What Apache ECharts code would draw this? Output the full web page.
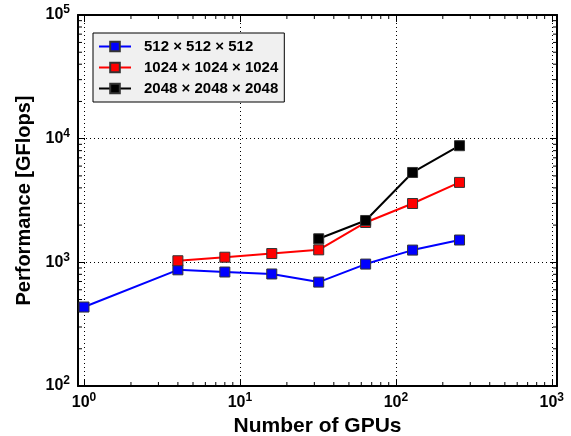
<!DOCTYPE html>
<html>
<head>
<meta charset="utf-8">
<script src="https://cdn.jsdelivr.net/npm/echarts@6/dist/echarts.min.js"></script>
<style>
  html, body { margin: 0; padding: 0; background: #fff; }
  #chart { width: 571px; height: 436px; }
</style>
</head>
<body>
<div id="chart"></div>
<script>
  // gpu counts on the x axis
  const gpus = [1, 4, 8, 16, 32, 64, 128, 256]
  const seriesNames = ['512 × 512 × 512', '1024 × 1024 × 1024', '2048 × 2048 × 2048']
  // GFlops (null = no point)
  const perf512 = [435, 870, 835, 805, 692, 968, 1256, 1515]
  const perf1024 = [null, 1030, 1100, 1178, 1262, 2100, 2990, 4430]
  const perf2048 = [null, null, null, null, 1550, 2180, 5330, 8770]
  const colors = ['#0000ff', '#ff0000', '#000000']

  // minor tick positions of the log axes
  const xMinor = [2, 3, 4, 5, 6, 7, 8, 9, 20, 30, 40, 50, 60, 70, 80, 90, 200, 300, 400, 500, 600, 700, 800, 900]
  const yMinor = [200, 300, 400, 500, 600, 700, 800, 900, 2000, 3000, 4000, 5000, 6000, 7000, 8000, 9000,
    20000, 30000, 40000, 50000, 60000, 70000, 80000, 90000]

  const xMin = 0.915, xMax = 1080, yMin = 100, yMax = 100000
  const font = '"Liberation Sans", Arial, sans-serif'

  function powLabel(v) {
    let e = Math.log10(v)
    if (Math.abs(e - Math.round(e)) > 1e-6) return ''
    return '{b|10}{s|' + Math.round(e) + '}'
  }
  const labelRich = {
    b: { fontFamily: font, fontWeight: 'bold', fontSize: 16, color: '#000' },
    s: { fontFamily: font, fontWeight: 'bold', fontSize: 12, color: '#000', padding: [0, 0, 10, 0] }
  }

  function pairs(vals) {
    let arr = []
    for (let i = 0; i < gpus.length; i++) {
      if (vals[i] != null) arr.push([gpus[i], vals[i]])
    }
    return arr
  }

  function lineSeries(name, vals, color) {
    return {
      name: name,
      type: 'line',
      data: pairs(vals),
      symbol: 'rect',
      symbolSize: 10,
      lineStyle: { color: color, width: 2 },
      itemStyle: { color: color, borderColor: '#333', borderWidth: 1 },
      z: 5
    }
  }

  const baseAxis = {
    type: 'log',
    logBase: 10,
    axisLine: { show: true, onZero: false, lineStyle: { color: '#000', width: 2 } },
    axisTick: { show: true, inside: true, length: 7, lineStyle: { color: '#000', width: 1 } },
    minorTick: { show: false }
  }

  let chart = echarts.init(document.getElementById('chart'))
  chart.setOption({
    animation: false,
    backgroundColor: '#fff',
    grid: { left: 78, right: 14, top: 15, bottom: 50, outerBoundsMode: 'none' },
    legend: {
      data: seriesNames,
      orient: 'vertical',
      left: 93,
      top: 33,
      backgroundColor: '#f0f0f0',
      borderColor: '#000',
      borderWidth: 1,
      borderRadius: 0,
      padding: [6, 6, 6, 5],
      itemWidth: 32,
      itemHeight: 12,
      itemGap: 6,
      textStyle: { fontFamily: font, fontWeight: 'bold', fontSize: 15, color: '#000', padding: [0, 0, 0, 8] }
    },
    xAxis: [
      Object.assign({}, baseAxis, {
        position: 'bottom',
        min: xMin, max: xMax,
        name: 'Number of GPUs',
        nameLocation: 'middle',
        nameGap: 26,
        nameTextStyle: { fontFamily: font, fontWeight: 'bold', fontSize: 21, color: '#000' },
        axisLabel: { formatter: powLabel, rich: labelRich, margin: 6 },
        splitLine: { show: true, lineStyle: { color: '#000', type: [1, 3], width: 1 } }
      }),
      Object.assign({}, baseAxis, {
        position: 'top',
        min: xMin, max: xMax,
        axisLabel: { show: false },
        splitLine: { show: false }
      })
    ],
    yAxis: [
      Object.assign({}, baseAxis, {
        position: 'left',
        min: yMin, max: yMax,
        name: 'Performance [GFlops]',
        nameLocation: 'middle',
        nameGap: 44,
        nameTextStyle: { fontFamily: font, fontWeight: 'bold', fontSize: 20, color: '#000' },
        axisLabel: { formatter: powLabel, rich: labelRich, margin: 8 },
        splitLine: { show: true, lineStyle: { color: '#000', type: [1, 3], width: 1 } }
      }),
      Object.assign({}, baseAxis, {
        position: 'right',
        min: yMin, max: yMax,
        axisLabel: { show: false },
        splitLine: { show: false }
      })
    ],
    series: [
      lineSeries(seriesNames[0], perf512, colors[0]),
      lineSeries(seriesNames[1], perf1024, colors[1]),
      lineSeries(seriesNames[2], perf2048, colors[2]),
      {
        // minor ticks on the bottom and top edges
        type: 'custom',
        silent: true,
        data: xMinor.map(v => [v, 1000]),
        renderItem: function (params, api) {
          let b = api.coord([api.value(0), yMin])
          let t = api.coord([api.value(0), yMax])
          return {
            type: 'group',
            children: [
              { type: 'line', shape: { x1: b[0], y1: b[1], x2: b[0], y2: b[1] - 4 }, style: { stroke: '#000', lineWidth: 1 } },
              { type: 'line', shape: { x1: t[0], y1: t[1], x2: t[0], y2: t[1] + 4 }, style: { stroke: '#000', lineWidth: 1 } }
            ]
          }
        },
        z: 4
      },
      {
        // minor ticks on the left and right edges
        type: 'custom',
        silent: true,
        data: yMinor.map(v => [10, v]),
        renderItem: function (params, api) {
          let l = api.coord([xMin, api.value(1)])
          let r = api.coord([xMax, api.value(1)])
          return {
            type: 'group',
            children: [
              { type: 'line', shape: { x1: l[0], y1: l[1], x2: l[0] + 4, y2: l[1] }, style: { stroke: '#000', lineWidth: 1 } },
              { type: 'line', shape: { x1: r[0], y1: r[1], x2: r[0] - 4, y2: r[1] }, style: { stroke: '#000', lineWidth: 1 } }
            ]
          }
        },
        z: 4
      }
    ]
  })
</script>
</body>
</html>
